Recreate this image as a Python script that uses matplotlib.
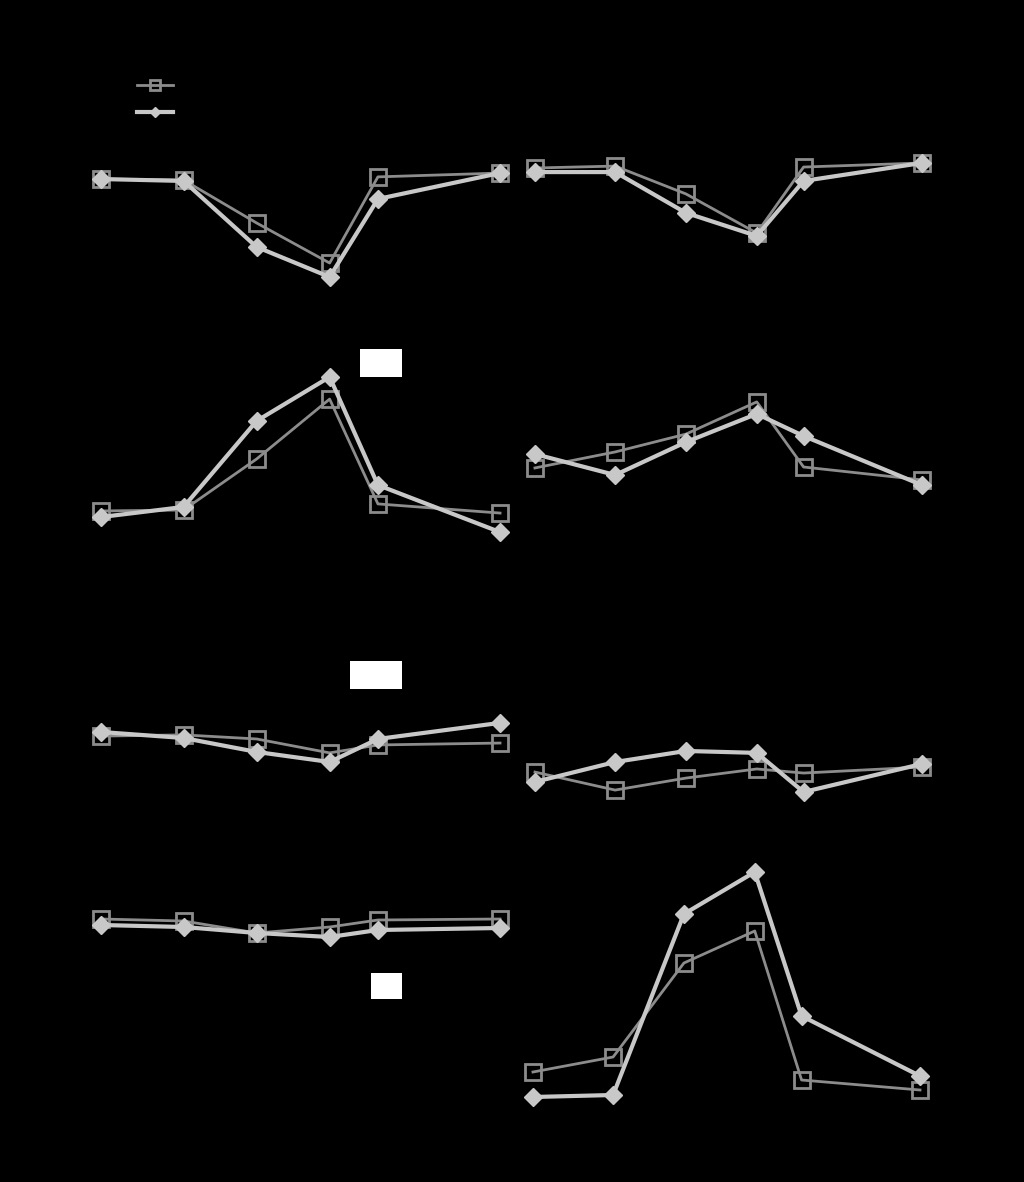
import matplotlib
matplotlib.use("Agg")
import matplotlib.pyplot as plt
from matplotlib.patches import Rectangle

# sampling points (relative time, %)
time_pts = [0, 20.7, 39, 57.3, 69.4, 100]

# panel values (% of panel height)
sq_a = [50.4, 50.0, 32.1, 15.4, 51.3, 52.9]
dm_a = [50.4, 49.6, 22.1, 9.6, 42.1, 52.9]
sq_b = [55.0, 55.8, 44.2, 27.9, 55.4, 57.1]
dm_b = [53.3, 53.3, 36.3, 26.7, 49.6, 57.1]
sq_c = [23.0, 23.4, 45.1, 70.6, 26.0, 22.1]
dm_c = [20.4, 24.7, 61.3, 80.0, 34.0, 14.0]
sq_d = [41.3, 48.1, 55.7, 69.4, 41.7, 36.2]
dm_d = [47.2, 38.3, 52.3, 64.3, 54.9, 34.0]
sq_e = [43.3, 43.8, 42.1, 36.3, 39.6, 40.4]
dm_e = [45.0, 42.5, 36.7, 32.5, 42.1, 48.8]
sq_f = [28.3, 20.8, 25.8, 29.6, 27.9, 30.4]
dm_f = [24.2, 32.5, 37.1, 36.3, 20.0, 31.7]
sq_g = [76.4, 75.6, 70.8, 73.2, 76.0, 76.4]
dm_g = [74.0, 73.2, 70.8, 69.2, 72.0, 72.8]
sq_h = [15.2, 21.2, 58.8, 71.6, 12.0, 8.0]
dm_h = [5.2, 6.0, 78.4, 95.2, 37.6, 13.6]

series_names = ["Group A", "Group B"]
panels = [(sq_a, dm_a), (sq_b, dm_b), (sq_c, dm_c), (sq_d, dm_d),
          (sq_e, dm_e), (sq_f, dm_f), (sq_g, dm_g), (sq_h, dm_h)]

W, H = 1024, 1182
fig = plt.figure(figsize=(W / 100, H / 100), dpi=100, facecolor="black")

rows = [(60, 300), (330, 565), (600, 840), (860, 1110)]
cols = [(85, 516), (519.5, 937.5)]

axes = []
for r, (top, bot) in enumerate(rows):
    for c, (left, right) in enumerate(cols):
        # last right panel sits a touch further left
        shift = -2 if (r == 3 and c == 1) else 0
        ax = fig.add_axes([(left + shift) / W, 1 - bot / H, (right - left) / W, (bot - top) / H])
        ax.set_facecolor("black")
        for s in ax.spines.values():
            s.set_color("black")
        ax.set_xticks([])
        ax.set_yticks([])
        axes.append(ax)

for ax, (sq, dm) in zip(axes, panels):
    ax.plot(time_pts, sq, color="#8c8c8c", lw=2, marker="s", ms=12,
            mfc="none", mec="#8c8c8c", mew=2, label=series_names[0])
    ax.plot(time_pts, dm, color="#c8c8c8", lw=3, marker="D", ms=9,
            mfc="#c8c8c8", mec="#c8c8c8", label=series_names[1])
    ax.set_xlim(-4, 104)
    ax.set_ylim(0, 100)

leg = axes[0].legend(loc="upper left", bbox_to_anchor=(137 / W, 1 - 79 / H),
                     bbox_transform=fig.transFigure, frameon=False,
                     handlelength=2.6, borderpad=0, borderaxespad=0,
                     labelspacing=0.9, fontsize=10, markerscale=0.55)
for t in leg.get_texts():
    t.set_color("black")

# white label boxes
for x0, y0, x1, y1 in [(360, 349, 402, 377), (350, 661, 402, 689), (371, 973, 402, 999)]:
    fig.patches.append(Rectangle((x0 / W, 1 - y1 / H), (x1 - x0) / W, (y1 - y0) / H,
                                 transform=fig.transFigure, facecolor="white",
                                 edgecolor="none", zorder=5))

fig.savefig("out.png", dpi=100, facecolor="black")
